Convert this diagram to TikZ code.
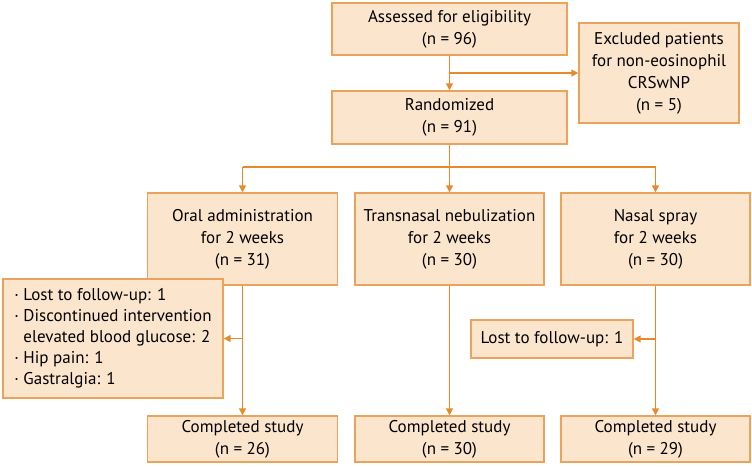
\documentclass[tikz,border=0pt]{standalone}
\usepackage{fontspec}
\setmainfont{PT Sans}
\usetikzlibrary{arrows.meta}
\definecolor{boxfill}{HTML}{FCE5CD}
\definecolor{boxline}{HTML}{EBA35C}
\definecolor{arrowc}{HTML}{E88A2C}
\begin{document}
\begin{tikzpicture}[x=1pt,y=-1pt,
 box/.style={draw=boxline, fill=boxfill, line width=1.4pt, inner sep=0pt, align=center, font=\fontsize{17}{22}\selectfont},
 arr/.style={draw=arrowc, line width=1.5pt, -{Triangle[length=7pt,width=7pt]}},
 ln/.style={draw=arrowc, line width=1.5pt}]
\useasboundingbox (0,0) rectangle (752,466);
\node[box, minimum width=235pt, minimum height=52pt] (assess) at (449.5,29) {Assessed for eligibility\\(n = 96)};
\node[box, minimum width=160pt, minimum height=100pt] (excl) at (659,73) {Excluded patients\\for non-eosinophil\\CRSwNP\\(n = 5)};
\node[box, minimum width=235pt, minimum height=53pt] (rand) at (449.5,117.5) {Randomized\\(n = 91)};
\node[box, minimum width=190pt, minimum height=92pt] (oral) at (242.5,239) {Oral administration\\for 2 weeks\\(n = 31)};
\node[box, minimum width=189pt, minimum height=92pt] (trans) at (449.5,239) {Transnasal nebulization\\for 2 weeks\\(n = 30)};
\node[box, minimum width=189pt, minimum height=92pt] (nasal) at (655.5,239) {Nasal spray\\for 2 weeks\\(n = 30)};
\node[box, align=left, font=\fontsize{17}{21}\selectfont, minimum width=220pt, minimum height=119pt] (drop) at (113,338.5) {\textperiodcentered\ Lost to follow-up: 1\\\textperiodcentered\ Discontinued intervention\\\phantom{\textperiodcentered\ }elevated blood glucose: 2\\\textperiodcentered\ Hip pain: 1\\\textperiodcentered\ Gastralgia: 1};
\node[box, minimum width=162pt, minimum height=38pt] (lost) at (552,339) {Lost to follow-up: 1};
\node[box, minimum width=190pt, minimum height=46pt] (comp1) at (242.5,439) {Completed study\\(n = 26)};
\node[box, minimum width=189pt, minimum height=46pt] (comp2) at (449.5,439) {Completed study\\(n = 30)};
\node[box, minimum width=189pt, minimum height=46pt] (comp3) at (655.5,439) {Completed study\\(n = 29)};
\coordinate (hy) at (449.5,167);
\draw[arr] (assess.south) -- (rand.north);
\draw[arr] (assess.south |- excl.west) -- (excl.west);
\draw[ln] (rand.south) -- (rand.south |- hy);
\draw[ln] (oral.north |- hy) -- (nasal.north |- hy);
\draw[arr] (oral.north |- hy) -- (oral.north);
\draw[arr] (trans.north |- hy) -- (trans.north);
\draw[arr] (nasal.north |- hy) -- (nasal.north);
\draw[arr] (oral.south) -- (comp1.north);
\draw[arr] (trans.south) -- (comp2.north);
\draw[arr] (nasal.south) -- (comp3.north);
\draw[arr] (oral.south |- drop.east) -- (drop.east);
\draw[arr] (nasal.south |- lost.east) -- (lost.east);
\end{tikzpicture}
\end{document}
